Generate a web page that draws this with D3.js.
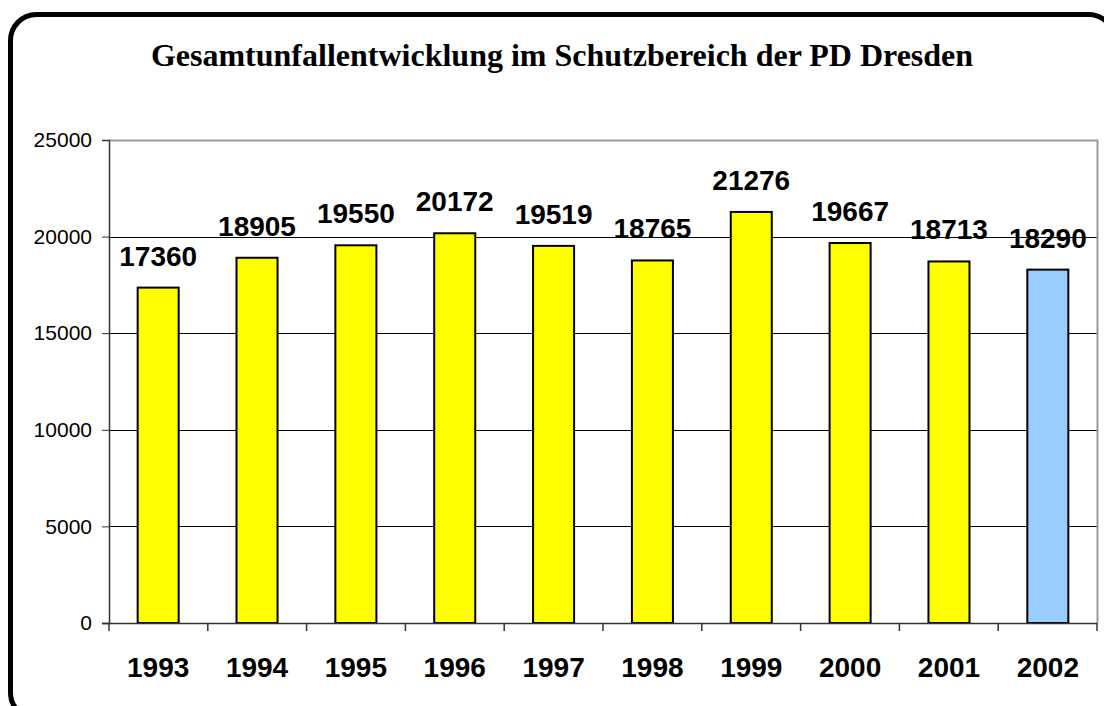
<!DOCTYPE html>
<html>
<head>
<meta charset="utf-8">
<script src="https://cdn.jsdelivr.net/npm/d3@7"></script>
<style>
  html, body { margin:0; padding:0; background:#fff; }
</style>
</head>
<body>
<script>
/* bar chart: Gesamtunfallentwicklung PD Dresden */

const years  = ["1993","1994","1995","1996","1997","1998","1999","2000","2001","2002"];
const values = [17360, 18905, 19550, 20172, 19519, 18765, 21276, 19667, 18713, 18290];
const fills  = ["#ffff00","#ffff00","#ffff00","#ffff00","#ffff00","#ffff00","#ffff00","#ffff00","#ffff00","#99ccff"];
const yTicks = [0, 5000, 10000, 15000, 20000, 25000];

const W = 1104, H = 706,
      PL = 109, PR = 1097, PT = 140, PB = 623;

const svg = d3.select("body").append("svg")
  .attr("width", W).attr("height", H);

// outer frame (rounded, runs off the right/bottom edge)
svg.append("rect")
  .attr("x", 10.5).attr("y", 14.5)
  .attr("width", 1104).attr("height", 704)
  .attr("rx", 26).attr("ry", 26)
  .attr("fill", "none").attr("stroke", "#000").attr("stroke-width", 5);

svg.append("text")
  .attr("x", 562).attr("y", 66)
  .attr("text-anchor", "middle")
  .style("font-family", "'Liberation Serif','Times New Roman',serif")
  .style("font-weight", "bold").style("font-size", "32px")
  .text("Gesamtunfallentwicklung im Schutzbereich der PD Dresden");

const x = d3.scaleBand().domain(years).range([PL, PR]).paddingInner(0.585).paddingOuter(0.29);
const y = d3.scaleLinear().domain([0, 25000]).range([PB, PT]);

// gridlines
svg.append("g").selectAll("line")
  .data(yTicks.filter(t => t > 0 && t < 25000))
  .join("line")
  .attr("x1", PL).attr("x2", PR)
  .attr("y1", d => Math.round(y(d)) + 0.5).attr("y2", d => Math.round(y(d)) + 0.5)
  .attr("stroke", "#000").attr("stroke-width", 1);

// gray plot border top/right
svg.append("path")
  .attr("d", `M${PL},${PT + 0.5}H${PR + 0.5}V${PB}`)
  .attr("fill", "none").attr("stroke", "#999").attr("stroke-width", 2);

// bars
svg.append("g").selectAll("rect")
  .data(values)
  .join("rect")
  .attr("x", (d, i) => x(years[i]))
  .attr("y", d => y(d))
  .attr("width", x.bandwidth())
  .attr("height", d => PB - y(d))
  .attr("fill", (d, i) => fills[i])
  .attr("stroke", "#000").attr("stroke-width", 2);

// value labels
svg.append("g").selectAll("text")
  .data(values)
  .join("text")
  .attr("x", (d, i) => x(years[i]) + x.bandwidth() / 2)
  .attr("y", d => y(d) - 22)
  .attr("text-anchor", "middle")
  .style("font-family", "'Liberation Sans',Arial,sans-serif")
  .style("font-weight", "bold").style("font-size", "28px")
  .text(d => d);

// y axis
const yAx = svg.append("g")
  .attr("transform", `translate(${PL},0)`)
  .call(d3.axisLeft(y).tickValues(yTicks).tickSize(7).tickPadding(10).tickFormat(d3.format("d")));
yAx.select(".domain").attr("stroke", "#333").attr("stroke-width", 1.5);
yAx.selectAll(".tick line").attr("stroke", "#333");
yAx.selectAll("text")
  .style("font-family", "'Liberation Sans',Arial,sans-serif")
  .style("font-size", "21px").attr("fill", "#000");

// x axis with ticks at category boundaries
const xAx = svg.append("g").attr("transform", `translate(0,${PB})`);
xAx.append("line")
  .attr("x1", PL - 7).attr("x2", PR).attr("y1", 0.5).attr("y2", 0.5)
  .attr("stroke", "#333").attr("stroke-width", 1.5);
const step = (PR - PL) / years.length;
xAx.selectAll("line.tk")
  .data(d3.range(years.length + 1))
  .join("line").attr("class", "tk")
  .attr("x1", i => PL + i * step).attr("x2", i => PL + i * step)
  .attr("y1", 0).attr("y2", 8)
  .attr("stroke", "#333").attr("stroke-width", 1.5);
xAx.selectAll("text")
  .data(years)
  .join("text")
  .attr("x", d => x(d) + x.bandwidth() / 2)
  .attr("y", 54)
  .attr("text-anchor", "middle")
  .style("font-family", "'Liberation Sans',Arial,sans-serif")
  .style("font-weight", "bold").style("font-size", "28px")
  .text(d => d);
</script>
</body>
</html>
